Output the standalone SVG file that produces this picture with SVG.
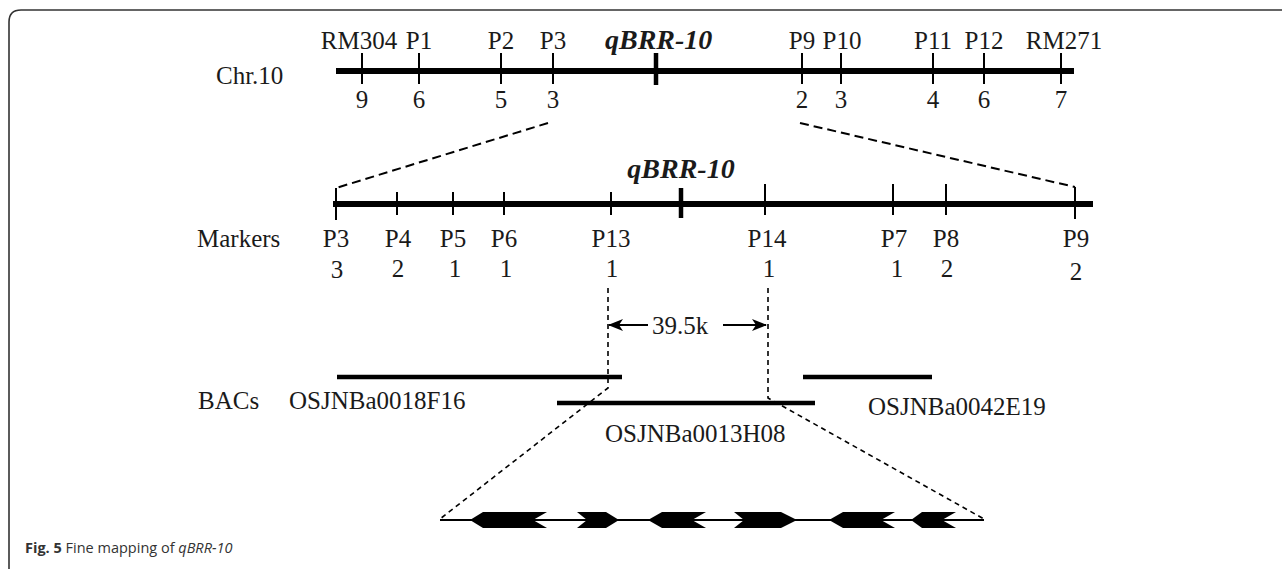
<svg xmlns="http://www.w3.org/2000/svg" width="1282" height="569" viewBox="0 0 1282 569">
<style>
.t{font-family:"Liberation Serif","Times New Roman",serif;font-size:25px;fill:#1a1a1a}
.q{font-family:"Liberation Serif","Times New Roman",serif;font-size:28px;font-weight:bold;font-style:italic;fill:#1a1a1a}
.chr{stroke:#000;stroke-width:6;fill:none}
.tk{stroke:#000;stroke-width:2;fill:none}
.tkb{stroke:#000;stroke-width:4.5;fill:none}
.bac{stroke:#000;stroke-width:4.5;fill:none}
.dl{stroke:#000;stroke-width:2;stroke-dasharray:9 5;fill:none}
.dv{stroke:#000;stroke-width:1.6;stroke-dasharray:5 4;fill:none}
.gene{fill:#000}
.cap{font-family:"Open Sans","Noto Sans",sans-serif;font-size:14.5px;fill:#333}
</style>
<defs>
<marker id="ah" markerWidth="15" markerHeight="12" refX="14" refY="6" orient="auto" markerUnits="userSpaceOnUse">
<path d="M0,0 L15,6 L0,12 L4,6 Z" fill="#000"/>
</marker>
</defs>
<path d="M9,569 V22 Q9,10 21,10 H1282" fill="none" stroke="#333" stroke-width="1.6"/>

<g id="chr10">
<text class="t" x="216" y="84">Chr.10</text>
<line class="chr" x1="336" y1="71" x2="1074" y2="71"/>
<g class="tk">
<line x1="362" y1="53" x2="362" y2="84"/>
<line x1="419" y1="53" x2="419" y2="84"/>
<line x1="501" y1="53" x2="501" y2="84"/>
<line x1="553" y1="53" x2="553" y2="84"/>
<line x1="802" y1="53" x2="802" y2="84"/>
<line x1="841" y1="53" x2="841" y2="84"/>
<line x1="933" y1="53" x2="933" y2="84"/>
<line x1="984" y1="53" x2="984" y2="84"/>
<line x1="1061" y1="53" x2="1061" y2="84"/>
</g>
<line class="tkb" x1="656" y1="53" x2="656" y2="85"/>
<g class="t" text-anchor="middle">
<text x="359" y="49">RM304</text>
<text x="419" y="49">P1</text>
<text x="501" y="49">P2</text>
<text x="553" y="49">P3</text>
<text x="802" y="49">P9</text>
<text x="842" y="49">P10</text>
<text x="933" y="49">P11</text>
<text x="984" y="49">P12</text>
<text x="1064" y="49">RM271</text>
<text x="362" y="108">9</text>
<text x="419" y="108">6</text>
<text x="501" y="108">5</text>
<text x="553" y="108">3</text>
<text x="802" y="108">2</text>
<text x="841" y="108">3</text>
<text x="933" y="108">4</text>
<text x="984" y="108">6</text>
<text x="1061" y="108">7</text>
</g>
<text class="q" x="605" y="49" font-size="29">qBRR-10</text>
</g>

<g id="markers">
<text class="t" x="197" y="247">Markers</text>
<line class="chr" x1="333" y1="204" x2="1093" y2="204"/>
<g class="tk">
<line x1="336" y1="188" x2="336" y2="220"/>
<line x1="397" y1="192" x2="397" y2="215"/>
<line x1="453" y1="192" x2="453" y2="215"/>
<line x1="504" y1="192" x2="504" y2="215"/>
<line x1="611" y1="192" x2="611" y2="215"/>
<line x1="765" y1="184" x2="765" y2="215"/>
<line x1="893" y1="184" x2="893" y2="215"/>
<line x1="946" y1="184" x2="946" y2="215"/>
<line x1="1075" y1="187" x2="1075" y2="219"/>
</g>
<line class="tkb" x1="681" y1="188" x2="681" y2="218"/>
<text class="q" x="681" y="178" text-anchor="middle">qBRR-10</text>
<g class="t" text-anchor="middle">
<text x="336" y="247">P3</text>
<text x="398" y="247">P4</text>
<text x="453" y="247">P5</text>
<text x="504" y="247">P6</text>
<text x="611" y="247">P13</text>
<text x="767" y="247">P14</text>
<text x="894" y="247">P7</text>
<text x="946" y="247">P8</text>
<text x="1076" y="247">P9</text>
<text x="337" y="278">3</text>
<text x="398" y="277">2</text>
<text x="455" y="277">1</text>
<text x="506" y="277">1</text>
<text x="612" y="277">1</text>
<text x="769" y="277">1</text>
<text x="897" y="277">1</text>
<text x="947" y="277">2</text>
<text x="1076" y="280">2</text>
</g>
</g>

<g id="bacs">
<text class="t" x="198" y="409">BACs</text>
<line class="bac" x1="337" y1="377" x2="622" y2="377"/>
<line class="bac" x1="557" y1="403" x2="815" y2="403"/>
<line class="bac" x1="803" y1="377" x2="932" y2="377"/>
<text class="t" x="289" y="409">OSJNBa0018F16</text>
<text class="t" x="605" y="442">OSJNBa0013H08</text>
<text class="t" x="868" y="415">OSJNBa0042E19</text>
</g>

<g id="size">
<text class="t" x="680" y="334" text-anchor="middle">39.5k</text>
</g>

<g id="genes">
<line x1="440" y1="520" x2="984" y2="520" stroke="#000" stroke-width="2"/>
<path class="gene" d="M470,520 L483,512 L547,512 L533,520 L547,528 L483,528 Z"/>
<path class="gene" d="M577,512 L606,512 L619,520 L606,528 L577,528 L587,520 Z"/>
<path class="gene" d="M648,520 L662,512 L706,512 L692,520 L706,528 L662,528 Z"/>
<path class="gene" d="M734,512 L781,512 L797,520 L781,528 L734,528 L744,520 Z"/>
<path class="gene" d="M829,520 L843,512 L895,512 L881,520 L895,528 L843,528 Z"/>
<path class="gene" d="M911,520 L922,512 L956,512 L942,520 L956,528 L922,528 Z"/>
</g>

<g id="connectors">
<path class="dl" d="M548,123 L336,188"/>
<path class="dl" d="M800,123 L1075,187"/>
<path class="dv" d="M608,288 V388 L440,519"/>
<path class="dv" d="M768,288 V398 L984,519"/>
<line x1="648" y1="325" x2="609" y2="325" stroke="#000" stroke-width="2" marker-end="url(#ah)"/>
<line x1="723" y1="325" x2="766" y2="325" stroke="#000" stroke-width="2" marker-end="url(#ah)"/>
</g>

<text class="cap" x="25" y="553"><tspan font-weight="bold">Fig. 5</tspan> Fine mapping of <tspan font-style="italic">qBRR-10</tspan></text>
</svg>
